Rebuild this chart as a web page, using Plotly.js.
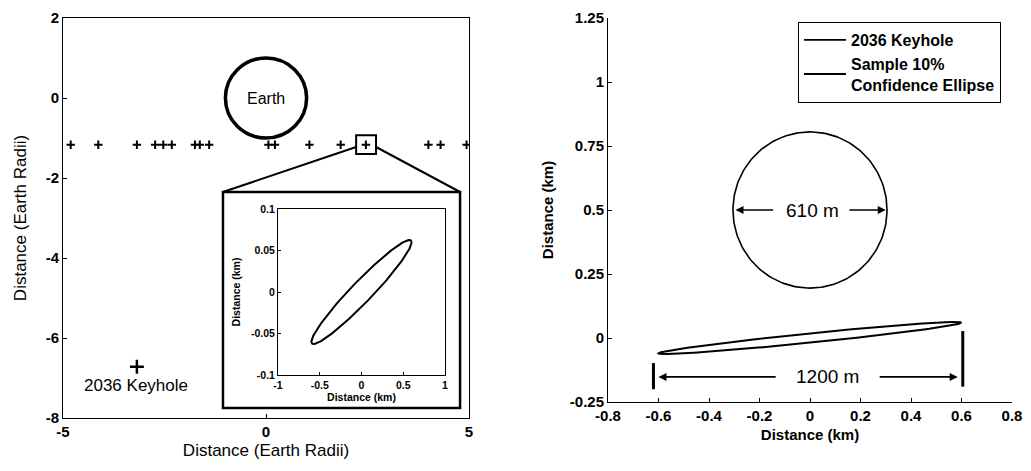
<!DOCTYPE html>
<html>
<head>
<meta charset="utf-8">
<script src="https://cdn.plot.ly/plotly-3.0.1.min.js"></script>
<style>html,body{margin:0;padding:0;background:#fff;}#chart{width:1031px;height:471px;}</style>
</head>
<body>
<div id="chart"></div>
<script>
// ---------- data ----------
// Left panel: b-plane crossings (Earth radii)
const crossingX = [-4.81, -4.13, -3.18, -2.73, -2.53, -2.32, -1.75, -1.63, -1.40, 0.06, 0.22, 1.07, 1.84, 2.46, 4.00, 4.30, 4.94];
const crossingY = [-1.17, -1.17, -1.17, -1.17, -1.17, -1.17, -1.17, -1.17, -1.17, -1.17, -1.17, -1.17, -1.17, -1.17, -1.17, -1.17, -1.17];
const earthCenter = [0, 0];
const earthRadius = 1;
const keyholeLeft = [-3.18, -6.72];

// Left panel ticks
const leftXTicks = [-5, 0, 5];
const leftYTicks = [2, 0, -2, -4, -6, -8];

// Inset / right panel: keyhole and confidence ellipse (km)
const keyholeCenterKm = [0, 0.5];
const keyholeDiameterM = 610;
const ellipseTipKm = [0.6, 0.06];      // end of major axis
const ellipseHalfWidthKm = 0.018;      // half thickness at x = 0
const spanM = 1200;

const insetXTicks = [-1, -0.5, 0, 0.5, 1];
const insetXText = ['-1', '-0.5', '0', '0.5', '1'];
const insetYTicks = [-0.1, -0.05, 0, 0.05, 0.1];
const insetYText = ['-0.1', '-0.05', '0', '0.05', '0.1'];

const rightXTicks = [-0.8, -0.6, -0.4, -0.2, 0, 0.2, 0.4, 0.6, 0.8];
const rightXText = ['-0.8', '-0.6', '-0.4', '-0.2', '0', '0.2', '0.4', '0.6', '0.8'];
const rightYTicks = [-0.25, 0, 0.25, 0.5, 0.75, 1, 1.25];
const rightYText = ['-0.25', '0', '0.25', '0.5', '0.75', '1', '1.25'];

// ---------- geometry helpers (outlines from the named parameters) ----------
const N = 181;
function circleOutline(c, r) {
  const xs = [], ys = [];
  for (let i = 0; i < N; i++) { const t = 2 * Math.PI * i / (N - 1); xs.push(c[0] + r * Math.cos(t)); ys.push(c[1] + r * Math.sin(t)); }
  return [xs, ys];
}
function ellipseOutline(tip, hw) {
  const xs = [], ys = [];
  for (let i = 0; i < N; i++) { const t = 2 * Math.PI * i / (N - 1); xs.push(tip[0] * Math.cos(t)); ys.push(tip[1] * Math.cos(t) + hw * Math.sin(t)); }
  return [xs, ys];
}
const keyholeOutline = circleOutline(keyholeCenterKm, keyholeDiameterM / 2000);
const ellOutline = ellipseOutline(ellipseTipKm, ellipseHalfWidthKm);

const FONT = 'Arial, "Liberation Sans", sans-serif';
const tickF = (s) => ({family: FONT, size: s, color: '#000'});
const B = (arr) => arr.map(s => '<b>' + s + '</b>');

const traces = [
  {x: crossingX, y: crossingY, xaxis: 'x', yaxis: 'y', mode: 'markers', showlegend: false,
   marker: {symbol: 'cross-thin', size: 6, color: '#000', line: {color: '#000', width: 2}}},
  {x: [keyholeLeft[0]], y: [keyholeLeft[1]], xaxis: 'x', yaxis: 'y', mode: 'markers', showlegend: false,
   marker: {symbol: 'cross-thin', size: 10, color: '#000', line: {color: '#000', width: 2.5}}},
  {x: ellOutline[0], y: ellOutline[1], xaxis: 'x3', yaxis: 'y3', mode: 'lines', showlegend: false,
   line: {color: '#000', width: 2}},
  {x: keyholeOutline[0], y: keyholeOutline[1], xaxis: 'x2', yaxis: 'y2', mode: 'lines', name: '<b>2036 Keyhole</b>',
   line: {color: '#000', width: 1.6}},
  {x: ellOutline[0], y: ellOutline[1], xaxis: 'x2', yaxis: 'y2', mode: 'lines', name: '<b>Sample 10%<br>Confidence Ellipse</b>',
   line: {color: '#000', width: 2}}
];

const W = 1031, H = 471;
const px = (a, b) => [a / W, b / W];
const py = (top, bottom) => [1 - bottom / H, 1 - top / H];

const commonAxis = {showgrid: false, zeroline: false, showline: true, linecolor: '#000', linewidth: 1,
  ticks: 'inside', ticklen: 4, tickcolor: '#000', tickmode: 'array'};

const layout = {
  width: W, height: H,
  margin: {l: 0, r: 0, t: 0, b: 0},
  paper_bgcolor: '#fff', plot_bgcolor: 'rgba(0,0,0,0)',
  font: {family: FONT, color: '#000'},
  showlegend: true,
  legend: {x: 798 / W, y: 1 - 22 / H, xanchor: 'left', yanchor: 'top', bordercolor: '#000', borderwidth: 1,
    bgcolor: '#fff', font: {family: FONT, size: 16, color: '#000'}, tracegroupgap: 0,
    itemwidth: 42},
  xaxis: Object.assign({}, commonAxis, {domain: px(63, 469), range: [-5, 5], mirror: true,
    tickvals: leftXTicks, ticktext: B(leftXTicks.map(String)), tickfont: tickF(15), anchor: 'y',
    title: {text: 'Distance (Earth Radii)', font: {family: FONT, size: 17}, standoff: 5}}),
  yaxis: Object.assign({}, commonAxis, {domain: py(18, 418), range: [-8, 2], mirror: true,
    tickvals: leftYTicks, ticktext: B(leftYTicks.map(String)), tickfont: tickF(15), anchor: 'x',
    title: {text: 'Distance (Earth Radii)', font: {family: FONT, size: 17}, standoff: 14}}),
  xaxis2: Object.assign({}, commonAxis, {domain: px(608, 1012), range: [-0.8, 0.8], anchor: 'y2',
    tickvals: rightXTicks, ticktext: B(rightXText), tickfont: tickF(15),
    title: {text: '<b>Distance (km)</b>', font: {family: FONT, size: 15}, standoff: 6}}),
  yaxis2: Object.assign({}, commonAxis, {domain: py(18, 402), range: [-0.25, 1.25], anchor: 'x2',
    tickvals: rightYTicks, ticktext: B(rightYText), tickfont: tickF(15),
    title: {text: '<b>Distance (km)</b>', font: {family: FONT, size: 15}, standoff: 12}}),
  xaxis3: Object.assign({}, commonAxis, {domain: px(278, 445), range: [-1, 1], anchor: 'y3', mirror: true, ticklen: 3,
    tickvals: insetXTicks, ticktext: B(insetXText), tickfont: tickF(10.5),
    title: {text: '<b>Distance (km)</b>', font: {family: FONT, size: 10.5}, standoff: 3}}),
  yaxis3: Object.assign({}, commonAxis, {domain: py(209, 375), range: [-0.1, 0.1], anchor: 'x3', mirror: true, ticklen: 3,
    tickvals: insetYTicks, ticktext: B(insetYText), tickfont: tickF(10.5),
    title: {text: '<b>Distance (km)</b>', font: {family: FONT, size: 10.5}, standoff: 8}}),
  shapes: [
    // Earth
    {type: 'circle', xref: 'x', yref: 'y', x0: earthCenter[0] - earthRadius, x1: earthCenter[0] + earthRadius,
     y0: earthCenter[1] - earthRadius, y1: earthCenter[1] + earthRadius, line: {color: '#000', width: 3.5}},
    // zoom box around crossing
    {type: 'rect', xref: 'x', yref: 'y', x0: 2.22, x1: 2.71, y0: -1.40, y1: -0.93, line: {color: '#000', width: 2}},
    {type: 'line', xref: 'x', yref: 'y', x0: 2.22, y0: -1.225, x1: -1.06, y1: -2.35, line: {color: '#000', width: 2}},
    {type: 'line', xref: 'x', yref: 'y', x0: 2.71, y0: -1.225, x1: 4.78, y1: -2.35, line: {color: '#000', width: 2}},
    // inset frame
    {type: 'rect', xref: 'x', yref: 'y', x0: -1.06, x1: 4.78, y0: -7.75, y1: -2.35, layer: 'below',
     fillcolor: '#fff', line: {color: '#000', width: 2.5}},
    // 1200 m bars
    {type: 'line', xref: 'x2', yref: 'y2', x0: -0.62, x1: -0.62, y0: -0.098, y1: -0.20, line: {color: '#000', width: 3}},
    {type: 'line', xref: 'x2', yref: 'y2', x0: 0.605, x1: 0.605, y0: 0.027, y1: -0.19, line: {color: '#000', width: 3}}
  ],
  annotations: [
    {xref: 'x', yref: 'y', x: 0, y: 0, text: 'Earth', showarrow: false, font: {family: FONT, size: 16}},
    {xref: 'x', yref: 'y', x: -3.2, y: -7.18, text: '2036 Keyhole', showarrow: false, font: {family: FONT, size: 17}},
    {xref: 'x2', yref: 'y2', x: keyholeCenterKm[0] + 0.01, y: keyholeCenterKm[1], text: keyholeDiameterM + ' m', showarrow: false, font: {family: FONT, size: 19}},
    {xref: 'x2', yref: 'y2', x: 0.07, y: -0.152, text: spanM + ' m', showarrow: false, font: {family: FONT, size: 19}},
    // arrows
    {xref: 'x2', yref: 'y2', axref: 'x2', ayref: 'y2', x: -0.295, y: 0.5, ax: -0.14, ay: 0.5, text: '', showarrow: true, arrowhead: 2, arrowsize: 1, arrowwidth: 1.6, arrowcolor: '#000'},
    {xref: 'x2', yref: 'y2', axref: 'x2', ayref: 'y2', x: 0.3, y: 0.5, ax: 0.15, ay: 0.5, text: '', showarrow: true, arrowhead: 2, arrowsize: 1, arrowwidth: 1.6, arrowcolor: '#000'},
    {xref: 'x2', yref: 'y2', axref: 'x2', ayref: 'y2', x: -0.6, y: -0.152, ax: -0.13, ay: -0.152, text: '', showarrow: true, arrowhead: 2, arrowsize: 1, arrowwidth: 1.6, arrowcolor: '#000'},
    {xref: 'x2', yref: 'y2', axref: 'x2', ayref: 'y2', x: 0.585, y: -0.152, ax: 0.27, ay: -0.152, text: '', showarrow: true, arrowhead: 2, arrowsize: 1, arrowwidth: 1.6, arrowcolor: '#000'}
  ]
};

Plotly.newPlot('chart', traces, layout, {staticPlot: true, displayModeBar: false});
</script>
</body>
</html>
